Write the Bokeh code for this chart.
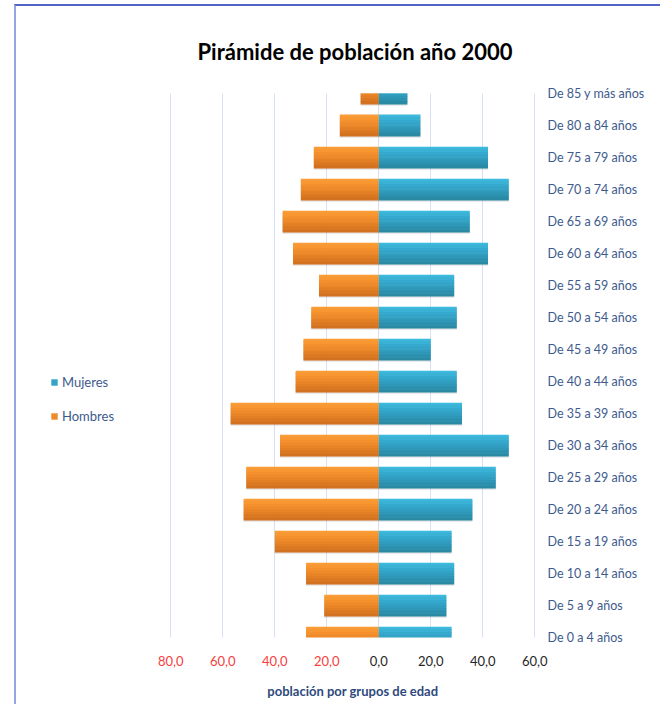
from bokeh.plotting import figure
from bokeh.models import (Range1d, LinearAxis, FixedTicker, Legend, LegendItem,
                          ColumnDataSource, BoxAnnotation)
from bokeh.core.properties import value
from bokeh.transform import dodge
from bokeh.embed import file_html
from bokeh.resources import INLINE

# ---- data (top to bottom as in the picture) ----
categories = ["De 85 y más años", "De 80 a 84 años", "De 75 a 79 años", "De 70 a 74 años",
              "De 65 a 69 años", "De 60 a 64 años", "De 55 a 59 años", "De 50 a 54 años",
              "De 45 a 49 años", "De 40 a 44 años", "De 35 a 39 años", "De 30 a 34 años",
              "De 25 a 29 años", "De 20 a 24 años", "De 15 a 19 años", "De 10 a 14 años",
              "De 5 a 9 años", "De 0 a 4 años"]
hombres = [7, 15, 25, 30, 37, 33, 23, 26, 29, 32, 57, 38, 51, 52, 40, 28, 21, 28]
mujeres = [11, 16, 42, 50, 35, 42, 29, 30, 20, 30, 32, 50, 45, 36, 28, 29, 26, 28]
x_ticks = [-80, -60, -40, -20, 0, 20, 40, 60]
x_tick_labels = ["80,0", "60,0", "40,0", "20,0", "0,0", "20,0", "40,0", "60,0"]

title_text = "Pirámide de población año 2000"
x_title = "población por grupos de edad"

FONT = "Lato"
LABEL_COLOR = "#3D5A8C"

n = len(categories)
ypos = [n - 1 - i for i in range(n)]
src = ColumnDataSource(dict(y=ypos, h=[-v for v in hombres], m=mujeres, cat=categories))

# the frame also holds the legend (left) and the value labels (below);
# a white cover hides everything below the lowest category, as in the original
p = figure(width=646, height=700, output_backend="svg", toolbar_location=None,
           x_range=Range1d(x_ticks[-1] + 0.27 - 190.4, x_ticks[-1] + 0.27),
           y_range=Range1d(n - 1 - 19.09, n - 1),
           min_border_left=24, min_border_right=127, min_border_top=86,
           min_border_bottom=2, outline_line_color=None,
           x_axis_location=None, y_axis_location=None)

p.styles = {"border-top": "2px solid #5163C9", "border-left": "2px solid #97A5E2",
            "margin-left": "14px", "margin-top": "4px"}

# title (aligned to the left of the frame, shifted to sit over the bars)
p.title.text = title_text
p.title.align = "left"
p.title.offset = 157
p.title.text_font = FONT
p.title.text_font_size = "22px"
p.title.text_font_style = "bold"
p.title.text_color = "#000000"
p.title.standoff = 58

# bars with a vertical gradient imitation (bands)
H = 0.66
orange_bands = ["#F99C37", "#F89632", "#F4902D", "#EF8A2A", "#E98426", "#E27E23",
                "#DA7720", "#D2711E"]
blue_bands = ["#3CB8DC", "#38B1D5", "#35AACE", "#33A4C7", "#309DBF", "#2E97B7",
              "#2B90AE", "#298AA6"]
nb = len(orange_bands)
bh = H / nb

# soft shadow
p.hbar(y=dodge("y", -0.05, range=p.y_range), left="h", right=0, height=H, source=src,
       fill_color="#A0A0A0", fill_alpha=0.3, line_color=None)
p.hbar(y=dodge("y", -0.05, range=p.y_range), left=0, right="m", height=H, source=src,
       fill_color="#A0A0A0", fill_alpha=0.3, line_color=None)

rh = rm = None
for k in range(nb):
    off = H / 2 - bh / 2 - k * bh
    r1 = p.hbar(y=dodge("y", off, range=p.y_range), left="h", right=0, height=bh + 0.02,
                source=src, fill_color=orange_bands[k], line_color=None)
    r2 = p.hbar(y=dodge("y", off, range=p.y_range), left=0, right="m", height=bh + 0.02,
                source=src, fill_color=blue_bands[k], line_color=None)
    if k == 3:
        rh, rm = r1, r2

# grid
p.xgrid.ticker = FixedTicker(ticks=x_ticks)
p.xgrid.grid_line_color = "#D5E1F2"
p.xgrid.grid_line_width = 1
p.ygrid.grid_line_color = None

# white cover below the lowest category line
p.add_layout(BoxAnnotation(top=min(ypos), fill_color="white", fill_alpha=1.0,
                           line_color=None))

# value labels of the horizontal axis (red for the men's side)
tick_src = ColumnDataSource(dict(x=x_ticks, text=x_tick_labels,
                                 color=["#F53E3E" if t < 0 else "#262626" for t in x_ticks]))
p.text(x="x", y=-0.73, text="text", source=tick_src, text_color="color",
       text_font=value(FONT), text_font_size="13px", text_align="center",
       text_baseline="middle", level="overlay")

# horizontal axis title
p.text(x=[(x_ticks[0] + x_ticks[-1]) / 2], y=[-1.66], text=[x_title],
       text_color="#2E4A7D", text_font=value(FONT), text_font_size="13px",
       text_font_style="bold", text_align="center", text_baseline="middle",
       level="overlay")

# right category axis
ra = LinearAxis(ticker=FixedTicker(ticks=ypos),
                major_label_overrides={y: c for y, c in zip(ypos, categories)})
ra.major_label_text_font = FONT
ra.major_label_text_font_size = "12.5px"
ra.major_label_text_color = LABEL_COLOR
ra.major_label_standoff = 6
ra.major_tick_line_color = None
ra.minor_tick_line_color = None
ra.axis_line_color = None
p.add_layout(ra, "right")

# legend
legend = Legend(items=[LegendItem(label="Mujeres", renderers=[rm]),
                       LegendItem(label="Hombres", renderers=[rh])],
                location=(10, 280), glyph_width=8, glyph_height=8,
                label_text_font=FONT, label_text_font_size="13px",
                label_text_color=LABEL_COLOR, label_standoff=4,
                border_line_color=None, background_fill_alpha=0,
                padding=0, margin=0, spacing=18)
p.add_layout(legend)

open("out.html", "w").write(file_html(p, INLINE))
